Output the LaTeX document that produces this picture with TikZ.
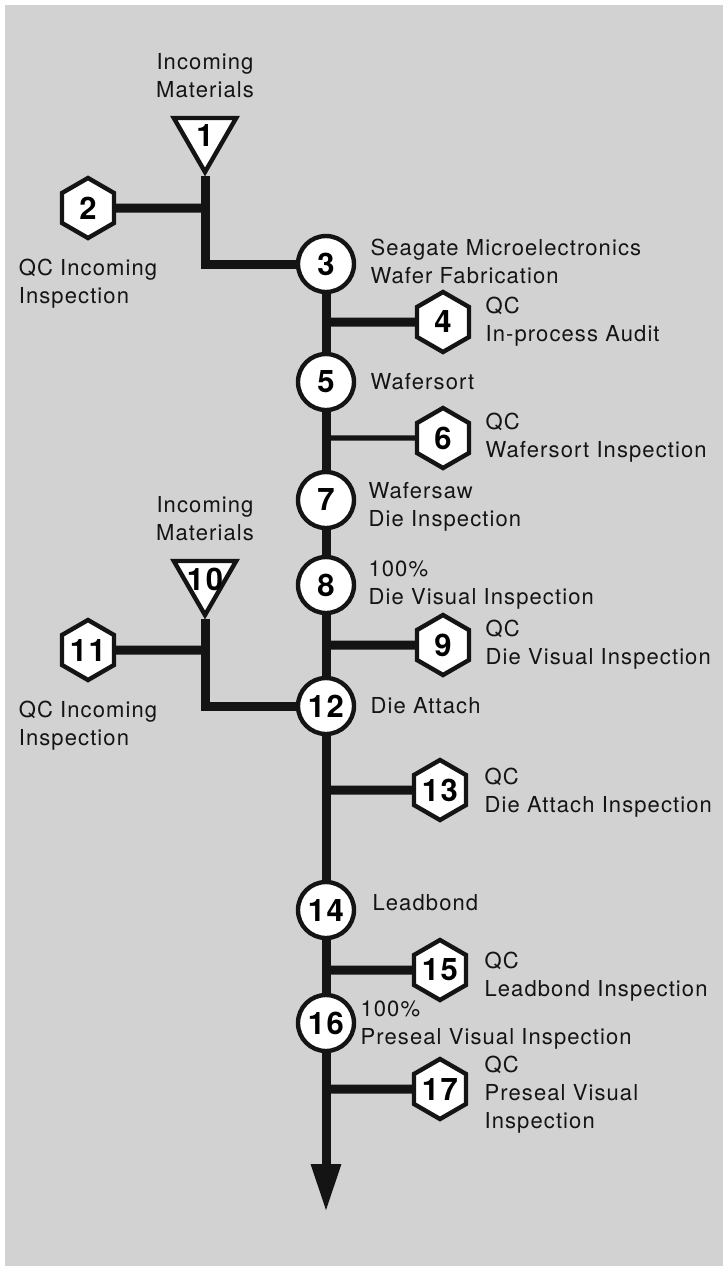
\documentclass[tikz,border=0pt]{standalone}
\usepackage{fontspec}
\setmainfont[LetterSpace=5]{TeX Gyre Heros}
\usetikzlibrary{arrows.meta,positioning,shapes.geometric}
\definecolor{qfPaper}{HTML}{D2D2D2}
\definecolor{qfInk}{HTML}{141414}

\begin{document}
\begin{tikzpicture}[x=0.5pt,y=-0.5pt,font=\fontsize{11}{14}\selectfont,
  stepnode/.style={circle,draw=qfInk,fill=white,line width=2.2pt,
    minimum size=28pt,inner sep=0pt,font=\fontsize{15.5}{15.5}\selectfont\bfseries},
  qcnode/.style={regular polygon,regular polygon sides=6,shape border rotate=90,
    draw=qfInk,fill=white,line width=2.2pt,minimum size=30pt,inner sep=0pt,
    font=\fontsize{15.5}{15.5}\selectfont\bfseries},
  feednode/.style={regular polygon,regular polygon sides=3,shape border rotate=180,
    draw=qfInk,fill=white,line width=2.2pt,minimum size=36pt,inner sep=0pt,
    font=\fontsize{15.5}{15.5}\selectfont\bfseries},
  lbl/.style={align=left,inner sep=0pt,text=qfInk},
  flow/.style={draw=qfInk,line width=4.5pt},
  thinflow/.style={draw=qfInk,line width=2.6pt}]
  \useasboundingbox (0,0) rectangle (728,1271);
  \fill[qfPaper] (5,5) rectangle (723,1266);

  % incoming branch (top)
  \node[feednode] (t1) at (205,136) {\makebox[0pt]{1}};
  \node[lbl,align=center,above=9pt of t1] (m1) {Incoming\\Materials};
  \node[qcnode] (h2) at (88,208) {2};
  \node[lbl,below=9pt of h2] (l2) {QC Incoming\\Inspection};

  % main steps
  \node[stepnode] (c3) at (326,264) {3};
  \node[qcnode] (h4) at (443,322) {4};
  \node[stepnode] (c5) at (326,382) {5};
  \node[qcnode] (h6) at (443,438) {6};
  \node[stepnode] (c7) at (326,500) {7};
  \node[stepnode] (c8) at (326,585) {8};
  \node[qcnode] (h9) at (443,645) {9};
  \node[stepnode] (c12) at (326,706) {12};
  \node[qcnode] (h13) at (440,790) {13};
  \node[stepnode] (c14) at (326,910) {14};
  \node[qcnode] (h15) at (440,970) {15};
  \node[stepnode] (c16) at (326,1023) {16};
  \node[qcnode] (h17) at (440,1089) {17};
  \coordinate (end) at (326,1212);

  % incoming branch (middle)
  \node[feednode] (t10) at (205,579) {\makebox[0pt]{10}};
  \node[lbl,align=center,above=9pt of t10] (m10) {Incoming\\Materials};
  \node[qcnode] (h11) at (88,650) {11};
  \node[lbl,below=9pt of h11] (l11) {QC Incoming\\Inspection};

  % labels
  \node[lbl,right=7pt of c3,yshift=1.5pt] {Seagate Microelectronics\\Wafer Fabrication};
  \node[lbl,right=7pt of h4] {QC\\In-process Audit};
  \node[lbl,right=7pt of c5] {Wafersort};
  \node[lbl,right=7pt of h6] {QC\\Wafersort Inspection};
  \node[lbl,right=6pt of c7,yshift=-3.5pt] {Wafersaw\\Die Inspection};
  \node[lbl,right=6pt of c8] {100\%\\Die Visual Inspection};
  \node[lbl,right=7pt of h9] {QC\\Die Visual Inspection};
  \node[lbl,right=7pt of c12] {Die Attach};
  \node[lbl,right=8pt of h13,yshift=-1.5pt] {QC\\Die Attach Inspection};
  \node[lbl,right=8pt of c14,yshift=3.5pt] {Leadbond};
  \node[lbl,right=8pt of h15,yshift=-3.5pt] {QC\\Leadbond Inspection};
  \node[lbl,right=2pt of c16,yshift=-1pt] {100\%\\Preseal Visual Inspection};
  \node[lbl,right=8pt of h17,yshift=-3pt] {QC\\Preseal Visual\\Inspection};

  % connectors
  \draw[flow] (t1.south) |- (c3);
  \draw[flow] (h2) -- (h2 -| t1.south);
  \draw[flow] (t10.south) |- (c12);
  \draw[flow] (h11) -- (h11 -| t10.south);
  \foreach \a/\b in {c3/c5,c5/c7,c7/c8,c8/c12,c12/c14,c14/c16}
    \draw[flow] (\a) -- (\b);
  \draw[flow,-{Triangle[width=14pt,length=24pt]}] (c16) -- (end);
  \foreach \h in {h4,h9,h13,h15,h17}
    \draw[flow] (c3 |- \h) -- (\h);
  \draw[thinflow] (c3 |- h6) -- (h6);
\end{tikzpicture}
\end{document}
